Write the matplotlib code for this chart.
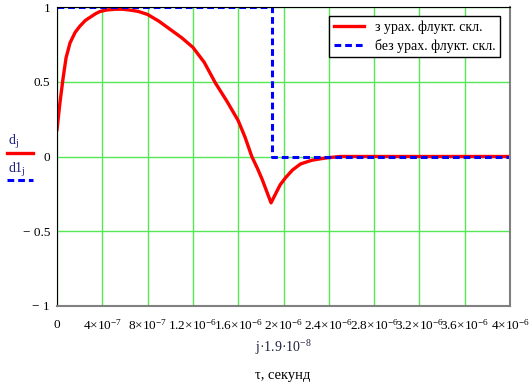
import matplotlib.pyplot as plt
import numpy as np

# Дані (час у секундах)
t_d = [0, 2.6e-8, 5.3e-8, 8e-8, 1.15e-7, 1.6e-7, 2e-7, 2.5e-7, 2.9e-7, 3.4e-7, 3.8e-7,
       4.4e-7, 5.1e-7, 5.8e-7, 6.4e-7, 7.2e-7, 8e-7, 9e-7, 1e-6, 1.1e-6, 1.2e-6,
       1.3e-6, 1.4e-6, 1.5e-6, 1.6e-6, 1.66e-6, 1.72e-6, 1.77e-6, 1.81e-6, 1.85e-6,
       1.89e-6, 1.93e-6, 1.97e-6, 2.02e-6, 2.08e-6, 2.15e-6, 2.25e-6, 2.37e-6, 2.5e-6,
       3e-6, 3.5e-6, 4e-6]
d = [0.18, 0.36, 0.52, 0.66, 0.76, 0.83, 0.87, 0.91, 0.93, 0.955, 0.97,
     0.98, 0.985, 0.985, 0.98, 0.97, 0.95, 0.905, 0.85, 0.795, 0.73,
     0.63, 0.49, 0.37, 0.24, 0.13, 0.0, -0.08, -0.15, -0.23,
     -0.31, -0.25, -0.19, -0.14, -0.09, -0.05, -0.025, -0.01, 0.0,
     0.0, 0.0, 0.0]

t_d1 = [0, 1.9e-6, 1.9e-6, 4e-6]
d1 = [1, 1, 0, 0]

x_ticks = [0, 4e-7, 8e-7, 1.2e-6, 1.6e-6, 2e-6, 2.4e-6, 2.8e-6, 3.2e-6, 3.6e-6, 4e-6]
x_labels = ['0', r'4×10$^{-7}$', r'8×10$^{-7}$', r'1.2×10$^{-6}$', r'1.6×10$^{-6}$',
            r'2×10$^{-6}$', r'2.4×10$^{-6}$', r'2.8×10$^{-6}$', r'3.2×10$^{-6}$',
            r'3.6×10$^{-6}$', r'4×10$^{-6}$']
y_ticks = [-1, -0.5, 0, 0.5, 1]
y_labels = ['− 1', '− 0.5', '0', '0.5', '1']

plt.rcParams['font.family'] = ['Liberation Serif', 'DejaVu Serif']
plt.rcParams['mathtext.fontset'] = 'custom'
plt.rcParams['mathtext.rm'] = 'Liberation Serif'
plt.rcParams['mathtext.it'] = 'Liberation Serif:italic'

fig = plt.figure(figsize=(5.3, 3.87), dpi=100)
ax = fig.add_axes([57 / 530, 1 - 306 / 387, 453 / 530, 299 / 387])

ax.grid(True, color='#55e855', linewidth=1.0)
ax.set_axisbelow(True)

ax.plot(t_d, d, color='red', linewidth=2.4, label='з урах. флукт. скл.')
ax.plot(t_d1, d1, color='blue', linewidth=2.2, linestyle=(0, (2.2, 1.3)),
        label='без урах. флукт. скл.')

ax.set_xlim(0, 4e-6)
ax.set_ylim(-1, 1)
ax.set_xticks(x_ticks)
ax.set_xticklabels(x_labels, fontsize=9.5)
ax.set_yticks(y_ticks)
ax.set_yticklabels(y_labels, fontsize=9.5)
ax.tick_params(axis='x', length=0, pad=9)
ax.tick_params(axis='y', length=0, pad=5)

for s in ['left', 'top']:
    ax.spines[s].set_color('black')
for s in ['right', 'bottom']:
    ax.spines[s].set_color('#808080')
    ax.spines[s].set_linewidth(1.5)

leg = ax.legend(loc='upper right', bbox_to_anchor=(0.978, 0.97), fontsize=10,
                fancybox=False, framealpha=1, edgecolor='black',
                handlelength=2.2, borderpad=0.3, labelspacing=0.4, borderaxespad=0)
leg.get_frame().set_linewidth(1.0)

# Підписи осей зліва та знизу
fig.text(8 / 530, 1 - 145 / 387, r'd$_{\mathrm{j}}$', fontsize=10, color='#202080')
fig.add_artist(plt.Line2D([7 / 530, 33 / 530], [1 - 153 / 387] * 2, color='red', linewidth=2.4))
fig.text(8 / 530, 1 - 173 / 387, r'd1$_{\mathrm{j}}$', fontsize=10, color='#202080')
fig.add_artist(plt.Line2D([7 / 530, 33 / 530], [1 - 180 / 387] * 2, color='blue',
                          linewidth=2.2, linestyle=(0, (2.2, 1.3))))

fig.text(283 / 530, 1 - 352 / 387, r'j·1.9·10$^{-8}$', fontsize=10, ha='center', color='#202040')
fig.text(283 / 530, 1 - 379 / 387, 'τ, секунд', fontsize=10.5, ha='center')

fig.savefig('out.png', dpi=100)
